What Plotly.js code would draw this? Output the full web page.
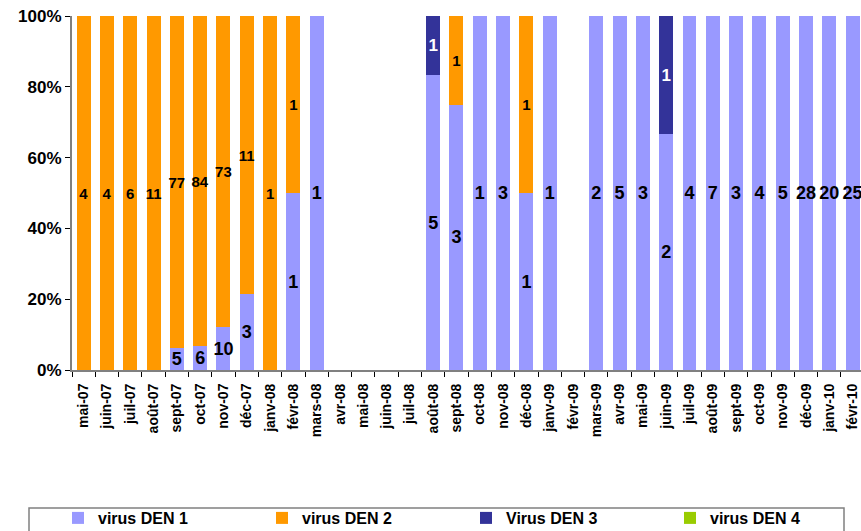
<!DOCTYPE html>
<html>
<head>
<meta charset="utf-8">
<script src="https://cdn.plot.ly/plotly-3.0.1.min.js"></script>
<style>html,body{margin:0;padding:0;background:#fff;}#chart{width:861px;height:531px;}</style>
</head>
<body>
<div id="chart"></div>
<script>
const months = ["mai-07","juin-07","juil-07","août-07","sept-07","oct-07","nov-07","déc-07","janv-08","févr-08","mars-08","avr-08","mai-08","juin-08","juil-08","août-08","sept-08","oct-08","nov-08","déc-08","janv-09","févr-09","mars-09","avr-09","mai-09","juin-09","juil-09","août-09","sept-09","oct-09","nov-09","déc-09","janv-10","févr-10"];
const den1 = [0,0,0,0,5,6,10,3,0,1,1,0,0,0,0,5,3,1,3,1,1,0,2,5,3,2,4,7,3,4,5,28,20,25];
const den2 = [4,4,6,11,77,84,73,11,1,1,0,0,0,0,0,0,1,0,0,1,0,0,0,0,0,0,0,0,0,0,0,0,0,0];
const den3 = [0,0,0,0,0,0,0,0,0,0,0,0,0,0,0,1,0,0,0,0,0,0,0,0,0,1,0,0,0,0,0,0,0,0];
const den4 = [0,0,0,0,0,0,0,0,0,0,0,0,0,0,0,0,0,0,0,0,0,0,0,0,0,0,0,0,0,0,0,0,0,0];
const seriesNames = ["virus DEN 1","virus DEN 2","Virus DEN 3","virus DEN 4"];

const FONT = "'Liberation Sans', Arial, sans-serif";
function lbl(arr){ return arr.map(v => v > 0 ? String(v) : ""); }
function mk(name, vals, color, tsize, tcolor, leg){
  return {
    type: 'bar', name: name, x: months, y: vals, legend: leg,
    marker: {color: color},
    text: lbl(vals), textposition: 'inside', insidetextanchor: 'middle',
    textangle: 0, constraintext: 'none',
    textfont: {family: FONT, size: tsize, color: tcolor, weight: 'bold'},
    hoverinfo: 'none'
  };
}
const data = [
  mk(seriesNames[0], den1, '#9999FF', 18, '#000000', 'legend'),
  mk(seriesNames[1], den2, '#FF9900', 15, '#000000', 'legend'),
  mk(seriesNames[2], den3, '#333399', 17, '#FFFFFF', 'legend'),
  mk(seriesNames[3], den4, '#99CC00', 15, '#000000', 'legend2')
];
const legBase = {
  orientation: 'h', xref: 'container', yref: 'container',
  xanchor: 'left', y: 1 - 501/531, yanchor: 'top',
  entrywidth: 159, entrywidthmode: 'pixels',
  font: {size: 16, weight: 'bold'},
  borderwidth: 0, bgcolor: 'rgba(0,0,0,0)', traceorder: 'normal'
};
const layout = {
  width: 861, height: 531,
  margin: {l: 72, r: 0, t: 16, b: 161},
  paper_bgcolor: '#fff', plot_bgcolor: '#fff',
  barmode: 'stack', barnorm: 'percent', bargap: 0.4,
  font: {family: FONT, color: '#000'},
  showlegend: true,
  xaxis: {
    type: 'category', range: [-0.5, 33.36],
    tickangle: -90, tickfont: {size: 14, weight: 'bold'},
    ticklabelstandoff: 6,
    showline: true, linecolor: '#808080', linewidth: 2,
    ticks: 'outside', tickson: 'boundaries', ticklen: 5, tickcolor: '#000',
    showgrid: false, zeroline: false, fixedrange: true
  },
  yaxis: {
    range: [0, 100], dtick: 20, ticksuffix: '%',
    tickfont: {size: 17, weight: 'bold'},
    showline: true, linecolor: '#808080', linewidth: 2,
    ticks: 'outside', ticklen: 5, tickcolor: '#000',
    showgrid: false, zeroline: false, fixedrange: true
  },
  legend: Object.assign({}, legBase, {x: 58/861}),
  legend2: Object.assign({}, legBase, {x: 670/861, entrywidth: 130}),
  shapes: [{
    type: 'rect', xref: 'paper', yref: 'paper',
    x0: (29-72)/789, x1: (844-72)/789,
    y0: (370-508)/354, y1: (370-540)/354,
    line: {color: '#808080', width: 1.5}, fillcolor: 'rgba(0,0,0,0)', layer: 'below'
  }]
};
Plotly.newPlot('chart', data, layout, {staticPlot: true, displayModeBar: false});
</script>
</body>
</html>
